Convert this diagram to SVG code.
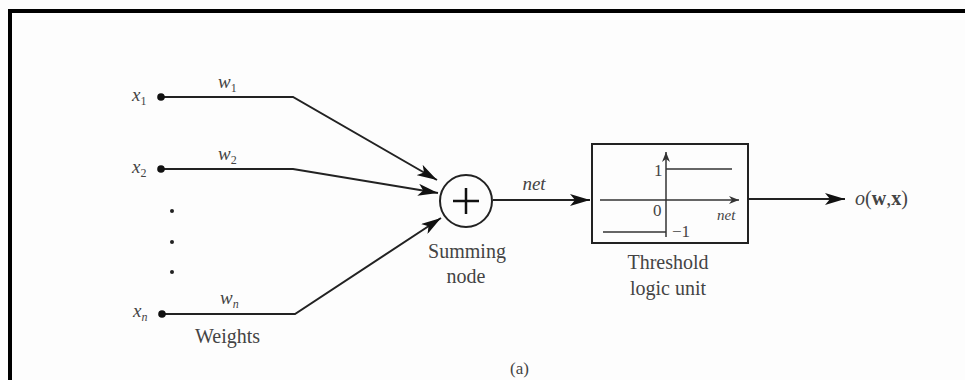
<svg xmlns="http://www.w3.org/2000/svg" width="965" height="380" viewBox="0 0 965 380">
<style>
.ln{fill:none;stroke:#222;stroke-width:2}
.thin{fill:none;stroke:#333;stroke-width:1.5}
.t{font-family:"Liberation Serif","Times New Roman",serif;fill:#444;font-size:20px}
.i{font-style:italic}
.sub{font-size:12px;font-style:normal}
</style>
<defs>
<marker id="ah" viewBox="0 0 20 12" refX="20" refY="6" markerWidth="20" markerHeight="12" markerUnits="userSpaceOnUse" orient="auto">
<path d="M0,0 L20,6 L0,12 L5,6 Z" fill="#111"/>
</marker>
<marker id="sm" viewBox="0 0 10 8" refX="10" refY="4" markerWidth="10" markerHeight="8" markerUnits="userSpaceOnUse" orient="auto">
<path d="M0,0 L10,4 L0,8 L3,4 Z" fill="#333"/>
</marker>
</defs>
<rect width="965" height="380" fill="#fdfdfd"/>
<path d="M10,380 V11 H965" fill="none" stroke="#000" stroke-width="4"/>

<g id="connectors">
<polyline class="ln" points="161,97 293,97 437,180" marker-end="url(#ah)"/>
<polyline class="ln" points="161,169 293,169 438,193" marker-end="url(#ah)"/>
<polyline class="ln" points="161,314 295,314 441,218" marker-end="url(#ah)"/>
<line class="ln" x1="493" y1="200" x2="590" y2="200" marker-end="url(#ah)"/>
<line class="ln" x1="748" y1="199" x2="845" y2="199" marker-end="url(#ah)"/>
</g>

<g id="input-x1">
<circle cx="161" cy="97" r="3.8" fill="#111"/>
<text class="t i" x="132" y="101" style="font-size:19px">x<tspan class="sub" dy="4">1</tspan></text>
<text class="t i" x="218" y="88" style="font-size:19px">w<tspan class="sub" dy="4">1</tspan></text>
</g>
<g id="input-x2">
<circle cx="161" cy="169" r="3.8" fill="#111"/>
<text class="t i" x="132" y="173" style="font-size:19px">x<tspan class="sub" dy="4">2</tspan></text>
<text class="t i" x="218" y="160" style="font-size:19px">w<tspan class="sub" dy="4">2</tspan></text>
</g>
<g id="ellipsis">
<circle cx="172" cy="211" r="2" fill="#222"/>
<circle cx="172" cy="242" r="2" fill="#222"/>
<circle cx="172" cy="272" r="2" fill="#222"/>
</g>
<g id="input-xn">
<circle cx="162" cy="314" r="3.8" fill="#111"/>
<text class="t i" x="133" y="317" style="font-size:19px">x<tspan class="sub" dy="4" style="font-style:italic">n</tspan></text>
<text class="t i" x="220" y="304" style="font-size:19px">w<tspan class="sub" dy="4" style="font-style:italic">n</tspan></text>
<text class="t" x="195" y="343">Weights</text>
</g>

<g id="summing-node">
<circle cx="466" cy="201" r="26" fill="none" stroke="#222" stroke-width="2"/>
<path d="M453,201 H479 M466,188 V214" stroke="#111" stroke-width="2.5" fill="none"/>
<text class="t" x="467" y="258" text-anchor="middle">Summing</text>
<text class="t" x="466" y="283" text-anchor="middle">node</text>
<text class="t i" x="534" y="190" text-anchor="middle" style="font-size:19px">net</text>
</g>

<g id="threshold-unit">
<rect x="592" y="144" width="156" height="99" fill="none" stroke="#222" stroke-width="2"/>
<line class="thin" x1="666" y1="237" x2="666" y2="152" marker-end="url(#sm)"/>
<line class="thin" x1="600" y1="200" x2="739" y2="200" marker-end="url(#sm)"/>
<line class="thin" x1="666" y1="169" x2="732" y2="169"/>
<line class="thin" x1="603" y1="232" x2="666" y2="232"/>
<text class="t" x="654" y="176" style="font-size:17px">1</text>
<text class="t" x="653" y="216" style="font-size:17px">0</text>
<text class="t i" x="717" y="220" style="font-size:15px">net</text>
<text class="t" x="672" y="237" style="font-size:17px">−1</text>
<text class="t" x="668" y="269" text-anchor="middle">Threshold</text>
<text class="t" x="668" y="295" text-anchor="middle">logic unit</text>
</g>

<g id="output">
<text class="t" x="855" y="205"><tspan class="i">o</tspan>(<tspan font-weight="bold">w</tspan>,<tspan font-weight="bold">x</tspan>)</text>
</g>

<text class="t" x="510" y="374" style="font-size:17px">(a)</text>
</svg>
